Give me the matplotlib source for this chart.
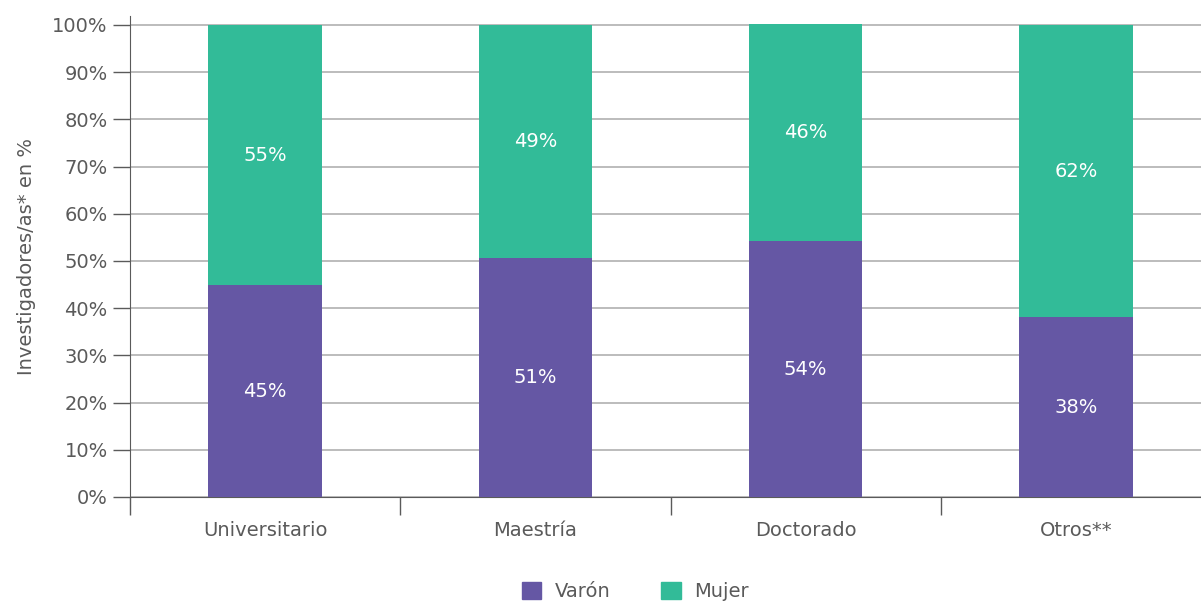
import numpy as np
import matplotlib.pyplot as plt
from matplotlib.patches import Patch

categories = ['Universitario', 'Maestría', 'Doctorado', 'Otros**']
varon = [44.9, 50.6, 54.2, 38.1]
mujer = [55.1, 49.4, 46.1, 61.9]
varon_labels = ['45%', '51%', '54%', '38%']
mujer_labels = ['55%', '49%', '46%', '62%']

purple = '#6557A4'
green = '#32BB98'
grey = '#5a5a5a'

plt.rcParams['font.family'] = ['DejaVu Sans']

fig = plt.figure(figsize=(12.01, 6.02), dpi=100)
ax = fig.add_axes([130 / 1201, 105 / 602, 1081 / 1201, 481 / 602])

x = np.arange(len(categories))
w = 0.42
ax.bar(x, varon, width=w, color=purple, zorder=3)
ax.bar(x, mujer, width=w, bottom=varon, color=green, zorder=3)

# white percentage labels in the middle of each segment
for i in range(len(categories)):
    ax.text(x[i], varon[i] / 2, varon_labels[i], ha='center', va='center',
            color='white', fontsize=14, zorder=4)
    ax.text(x[i], varon[i] + mujer[i] / 2, mujer_labels[i], ha='center', va='center',
            color='white', fontsize=14, zorder=4)

ax.set_xlim(-0.5, len(categories) - 0.5)
ax.set_ylim(0, 101.9)
ax.set_yticks(np.arange(0, 101, 10))
ax.set_yticklabels([f'{v}%' for v in range(0, 101, 10)])
ax.yaxis.grid(True, color='#b0b0b0', linewidth=1.2, zorder=0)
ax.set_axisbelow(True)

ax.set_xticks(x)
ax.set_xticklabels(categories)
ax.set_xticks(np.arange(-0.5, len(categories), 1), minor=True)
ax.tick_params(axis='x', which='major', length=0, pad=17, labelsize=14, labelcolor=grey)
ax.tick_params(axis='x', which='minor', length=13, color=grey, width=1)
ax.tick_params(axis='y', length=12, color=grey, width=1, labelsize=14, labelcolor=grey, pad=4)

for s in ['top', 'right']:
    ax.spines[s].set_visible(False)
ax.spines['left'].set_color(grey)
ax.spines['bottom'].set_color(grey)

ax.set_ylabel('Investigadores/as* en %', fontsize=14, color=grey, labelpad=12)

handles = [Patch(color=purple, label='Varón'), Patch(color=green, label='Mujer')]
fig.legend(handles=handles, loc='center', bbox_to_anchor=(0.529, 0.017), ncol=2,
           frameon=False, fontsize=14, labelcolor=grey, handlelength=1.0,
           handleheight=1.0, columnspacing=2.6, handletextpad=0.7)

fig.savefig('out.png', dpi=100)
